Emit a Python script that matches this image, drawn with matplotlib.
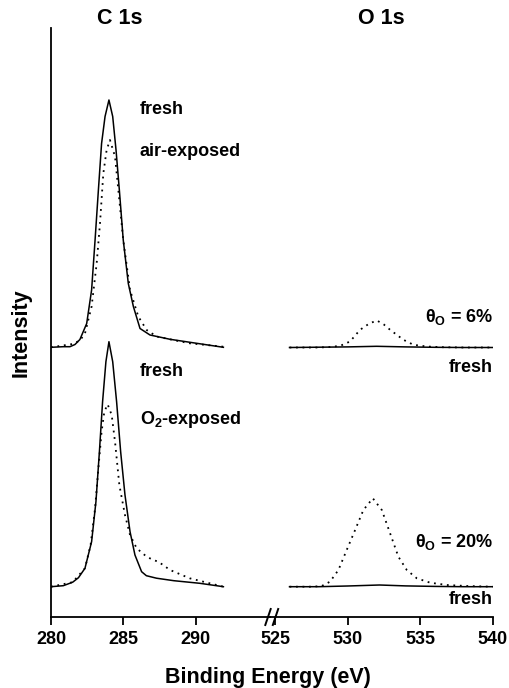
import matplotlib
matplotlib.use("Agg")
import matplotlib.pyplot as plt
from matplotlib.lines import Line2D

plt.rcParams['font.family'] = ['Liberation Sans', 'DejaVu Sans']
plt.rcParams['font.weight'] = 'bold'
plt.rcParams['mathtext.fontset'] = 'custom'
plt.rcParams['mathtext.rm'] = 'Liberation Sans:bold'
plt.rcParams['mathtext.it'] = 'Liberation Sans:bold'
plt.rcParams['mathtext.bf'] = 'Liberation Sans:bold'

# ---------------- data (arbitrary intensity units) ----------------
# C 1s, top pair (fresh vs air-exposed)
c_air_fresh_E = [280.0, 280.85, 281.31, 281.66, 282.0, 282.47, 282.81, 283.05, 283.28, 283.5, 283.74,
                 284.01, 284.27, 284.5, 284.73, 285.0, 285.35, 285.7, 286.16, 286.85, 288.24, 290.08, 291.93]
c_air_fresh_I = [0.2, 0.8, 0.8, 3.0, 8.0, 24.0, 57.5, 107.5, 157.5, 204.0, 231.0,
                 247.5, 231.0, 197.5, 157.5, 107.5, 64.0, 41.0, 19.0, 12.5, 8.2, 4.2, 0.2]
c_air_exp_E = [280.0, 281.5, 282.0, 282.35, 282.81, 283.16, 283.39, 283.62, 283.85, 284.08, 284.43,
               284.66, 285.0, 285.47, 286.04, 286.62, 287.31, 288.46, 289.6, 291.93]
c_air_exp_I = [0.2, 3.5, 7.0, 14.0, 41.0, 84.0, 124.0, 174.0, 197.5, 207.5, 191.0,
               157.5, 107.5, 57.5, 31.0, 17.5, 11.0, 7.5, 4.2, 0.8]

# C 1s, bottom pair (fresh vs O2-exposed)
c_o2_fresh_E = [280.0, 280.85, 281.5, 281.9, 282.35, 282.81, 283.11, 283.35, 283.57, 283.8, 284.01,
                284.27, 284.54, 284.82, 285.12, 285.47, 285.81, 286.27, 286.6, 287.3, 288.5, 290.3, 291.93]
c_o2_fresh_I = [0.0, 1.0, 4.5, 9.0, 18.4, 45.0, 85.0, 135.0, 185.0, 225.0, 245.0,
                225.0, 185.0, 135.0, 91.7, 55.0, 31.7, 15.0, 11.0, 8.5, 6.0, 3.4, 0.0]
c_o2_exp_E = [280.0, 281.5, 282.35, 282.74, 283.05, 283.28, 283.5, 283.69, 283.92, 284.2, 284.43,
              284.73, 285.12, 285.47, 285.93, 286.62, 287.08, 287.43, 288.24, 289.6, 291.93]
c_o2_exp_I = [0.0, 4.5, 18.4, 41.7, 78.4, 118.4, 155.0, 175.0, 182.4, 171.7, 145.0,
              101.7, 71.7, 51.7, 38.4, 30.0, 26.7, 25.0, 16.7, 8.4, 0.0]

# O 1s, top pair (fresh vs air-exposed, theta_O = 6%)
o_air_fresh_E = [526.0, 528.0, 530.0, 532.0, 534.0, 536.0, 538.0, 540.0]
o_air_fresh_I = [0.0, 0.3, 0.6, 1.2, 0.6, 0.2, 0.0, 0.0]
o_air_exp_E = [526.0, 528.0, 528.8, 529.5, 530.17, 530.86, 531.5, 532.02, 532.5, 532.93, 533.85,
               534.54, 535.46, 536.5, 538.0, 540.0]
o_air_exp_I = [0.0, 0.0, 0.5, 1.7, 6.0, 17.7, 24.0, 27.0, 23.0, 17.7, 7.7,
               2.7, 1.0, 0.3, 0.0, 0.0]

# O 1s, bottom pair (fresh vs O2-exposed, theta_O = 20%)
o_o2_fresh_E = [526.0, 528.0, 530.0, 532.2, 534.0, 536.0, 538.0, 540.0]
o_o2_fresh_I = [0.0, 0.0, 0.7, 1.7, 0.8, 0.3, 0.0, 0.0]
o_o2_exp_E = [526.0, 527.6, 528.22, 528.79, 529.37, 529.94, 530.52, 531.09, 531.74, 532.36, 532.93,
              533.5, 534.08, 534.77, 535.69, 536.84, 538.22, 540.0]
o_o2_exp_I = [0.0, 0.0, 0.7, 5.0, 16.7, 36.7, 56.7, 76.7, 88.4, 76.7, 53.4,
              30.0, 16.7, 8.4, 4.0, 1.7, 0.7, 0.0]

left_ticks = [280, 285, 290]
right_ticks = [525, 530, 535, 540]

# vertical stacking offsets of the two pairs
top_offset = 269.5
bottom_offset = 30.3

# ---------------- figure ----------------
W, H = 510, 688
fig = plt.figure(figsize=(W / 100, H / 100), dpi=100)


def fx(px):
    return px / W


def fy(py):
    return 1 - py / H


ax_bottom, ax_top = 617, 28
xl0, xbrk, xr1 = 51, 270, 492.7
axL = fig.add_axes([fx(xl0), fy(ax_bottom), fx(xbrk - xl0), (ax_bottom - ax_top) / H])
axR = fig.add_axes([fx(xbrk), fy(ax_bottom), fx(xr1 - xbrk), (ax_bottom - ax_top) / H])

solid = dict(color='black', lw=1.1, ls='-')
dotted = dict(color='black', lw=1.3, ls=(0, (1, 2.6)))

axL.plot(c_air_fresh_E, [v + top_offset for v in c_air_fresh_I], **solid)
axL.plot(c_air_exp_E, [v + top_offset for v in c_air_exp_I], **dotted)
axL.plot(c_o2_fresh_E, [v + bottom_offset for v in c_o2_fresh_I], **solid)
axL.plot(c_o2_exp_E, [v + bottom_offset for v in c_o2_exp_I], **dotted)

axR.plot(o_air_fresh_E, [v + top_offset for v in o_air_fresh_I], **solid)
axR.plot(o_air_exp_E, [v + top_offset for v in o_air_exp_I], **dotted)
axR.plot(o_o2_fresh_E, [v + bottom_offset for v in o_o2_fresh_I], **solid)
axR.plot(o_o2_exp_E, [v + bottom_offset for v in o_o2_exp_I], **dotted)

px_per_eV_L = 14.45
px_per_eV_R = 14.5
axL.set_xlim(280, 280 + (xbrk - xl0) / px_per_eV_L)
axR.set_xlim(525 - (275 - xbrk) / px_per_eV_R, 540)
for ax in (axL, axR):
    ax.set_ylim(0, ax_bottom - ax_top)
    ax.set_yticks([])
    ax.patch.set_visible(False)
    for s in ('top', 'right'):
        ax.spines[s].set_visible(False)
    ax.spines['bottom'].set_linewidth(1.3)
    ax.tick_params(axis='x', direction='out', length=6, width=1.3, labelsize=13, pad=4)
axR.spines['left'].set_visible(False)
axL.spines['left'].set_linewidth(1.3)
axL.set_xticks(left_ticks)
axL.set_xticklabels([str(t) for t in left_ticks], fontweight='bold')
axR.set_xticks(right_ticks)
axR.set_xticklabels([str(t) for t in right_ticks], fontweight='bold')

# axis break marks
for cx in (268.0, 275.5):
    fig.add_artist(Line2D([fx(cx - 2.7), fx(cx + 2.7)], [fy(625), fy(609)],
                          color='black', lw=1.4, transform=fig.transFigure))

# titles and axis labels
fig.text(fx(120), fy(18), 'C 1s', ha='center', va='center', fontsize=15.5, fontweight='bold')
fig.text(fx(381), fy(18), 'O 1s', ha='center', va='center', fontsize=15.5, fontweight='bold')
fig.text(fx(21), fy(333), 'Intensity', ha='center', va='center', rotation=90,
         fontsize=15.5, fontweight='bold')
fig.text(fx(268), fy(677), 'Binding Energy (eV)', ha='center', va='center',
         fontsize=15.5, fontweight='bold')

# curve labels
fs = 13
fig.text(fx(140), fy(110), 'fresh', ha='left', va='center', fontsize=fs, fontweight='bold')
fig.text(fx(140), fy(152), 'air-exposed', ha='left', va='center', fontsize=fs, fontweight='bold')
fig.text(fx(140), fy(372), 'fresh', ha='left', va='center', fontsize=fs, fontweight='bold')
fig.text(fx(140), fy(420), r'O$_2$-exposed', ha='left', va='center', fontsize=fs, fontweight='bold')
fig.text(fx(493), fy(317), r'$\theta_\mathrm{O}$ = 6%', ha='right', va='center', fontsize=fs,
         fontweight='bold')
fig.text(fx(493), fy(368), 'fresh', ha='right', va='center', fontsize=fs, fontweight='bold')
fig.text(fx(493), fy(542), r'$\theta_\mathrm{O}$ = 20%', ha='right', va='center', fontsize=fs,
         fontweight='bold')
fig.text(fx(493), fy(600), 'fresh', ha='right', va='center', fontsize=fs, fontweight='bold')

fig.savefig('out.png', dpi=100)
